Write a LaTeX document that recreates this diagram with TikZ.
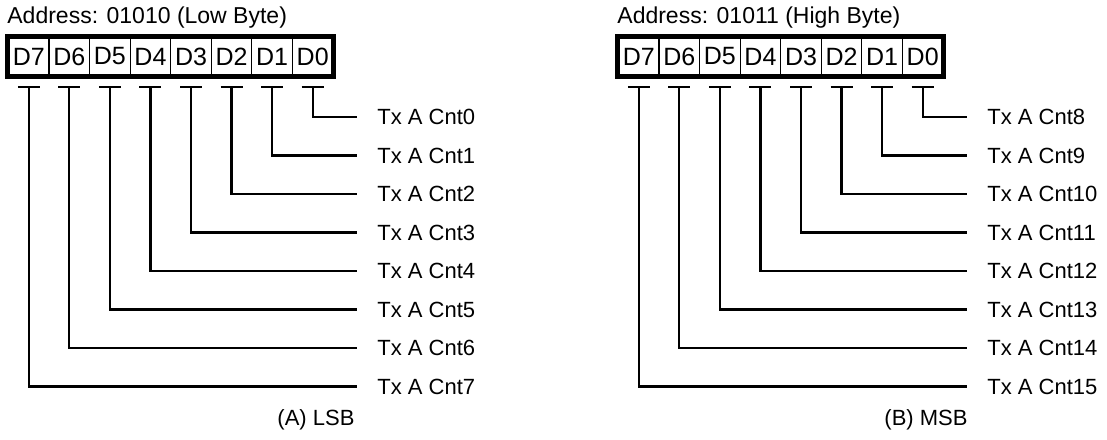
\documentclass[tikz,border=0pt]{standalone}
\usepackage{fontspec}
\setmainfont{Liberation Sans}
\tikzset{
  bitcell/.style  = {draw,line width=0.6pt,minimum width=20.28pt,minimum height=19pt,
                     inner sep=0pt,font=\fontsize{12.5}{15}\selectfont},
  regbox/.style   = {line width=2.5pt},
  wire/.style     = {line width=1.1pt},
  cntlabel/.style = {anchor=west,inner xsep=10pt,inner ysep=0pt,font=\fontsize{11}{13}\selectfont},
  regtitle/.style = {anchor=base west,inner sep=0pt,font=\fontsize{11.5}{14}\selectfont},
  regcap/.style   = {inner sep=0pt,font=\fontsize{11}{13}\selectfont}
}
% #1 prefix, #2 x offset, #3 title, #4 caption, #5 first count
\newcommand{\bytereg}[5]{%
  \foreach \i/\dy in {7/0,6/0,5/-1,4/-1,3/-1,2/-1,1/0,0/0}{
    \pgfmathsetmacro{\cx}{#2+8.5+(7.5-\i)*40.56}
    \node[bitcell] (#1\i) at (\cx,56.5) {\raisebox{\dy pt}{D\i}};
  }
  \draw[regbox] (#17.north west) rectangle (#10.south east);
  \foreach \i in {0,...,7}{
    \pgfmathsetmacro{\ry}{117+\i*38.5}
    \pgfmathtruncatemacro{\cnt}{\i+#5}
    \node[cntlabel] (#1c\i) at (#2+357,\ry) {Tx A Cnt\cnt};
    \coordinate (#1t\i) at ([yshift=-5.25pt]#1\i.south);
    \draw[wire] ([xshift=-5.5pt]#1t\i) -- ([xshift=5.5pt]#1t\i);
    \draw[wire] (#1t\i) |- (#1c\i.west);
  }
  \node[regtitle] (#1title) at (#2+7,24) {#3};
  \node[regcap]   (#1cap)   at (#2+316,420) {#4};
}

\begin{document}
\begin{tikzpicture}[x=0.5pt,y=-0.5pt]
  \useasboundingbox (0,0) rectangle (1107,439);
  \bytereg{lo}{0}{Address: 01010 (Low Byte)}{(A) LSB}{0}
  \bytereg{hi}{610}{Address: 01011 (High Byte)}{(B) MSB}{8}
\end{tikzpicture}
\end{document}
